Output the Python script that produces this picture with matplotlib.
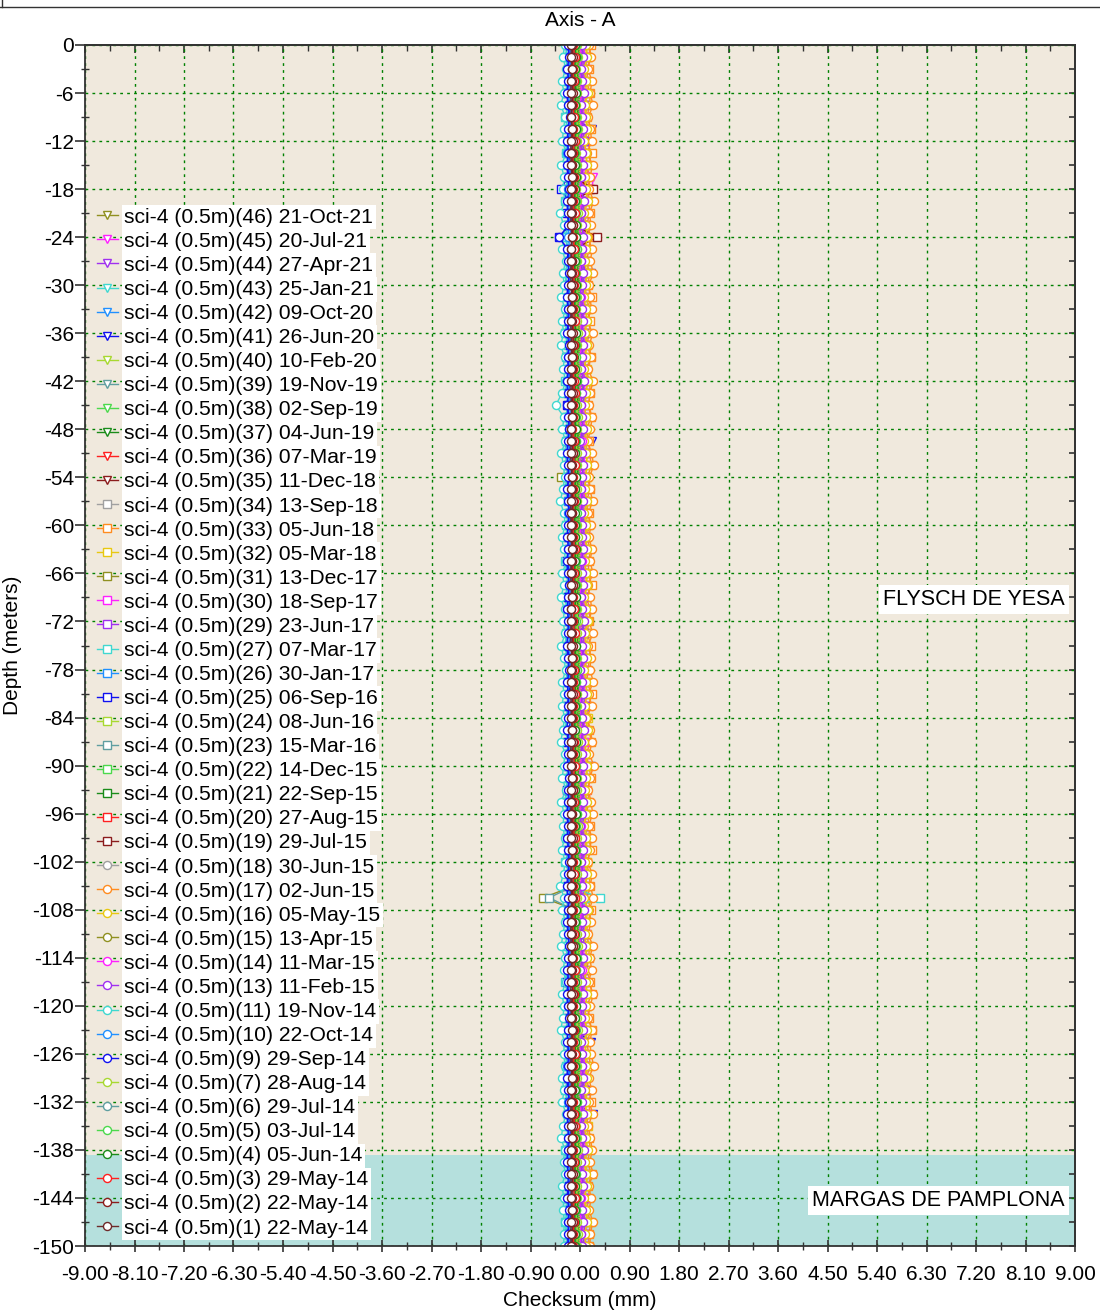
import numpy as np
import matplotlib
matplotlib.use("Agg")
import matplotlib.pyplot as plt
import matplotlib.transforms as mtransforms
from matplotlib.ticker import MultipleLocator, FuncFormatter

# series ids / dates, top of legend first
series_ids = [46, 45, 44, 43, 42, 41, 40, 39, 38, 37, 36, 35, 34, 33, 32, 31, 30, 29,
              27, 26, 25, 24, 23, 22, 21, 20, 19, 18, 17, 16, 15, 14, 13, 11, 10, 9,
              7, 6, 5, 4, 3, 2, 1]
series_dates = ["21-Oct-21", "20-Jul-21", "27-Apr-21", "25-Jan-21", "09-Oct-20", "26-Jun-20",
                "10-Feb-20", "19-Nov-19", "02-Sep-19", "04-Jun-19", "07-Mar-19", "11-Dec-18",
                "13-Sep-18", "05-Jun-18", "05-Mar-18", "13-Dec-17", "18-Sep-17", "23-Jun-17",
                "07-Mar-17", "30-Jan-17", "06-Sep-16", "08-Jun-16", "15-Mar-16", "14-Dec-15",
                "22-Sep-15", "27-Aug-15", "29-Jul-15", "30-Jun-15", "02-Jun-15", "05-May-15",
                "13-Apr-15", "11-Mar-15", "11-Feb-15", "19-Nov-14", "22-Oct-14", "29-Sep-14",
                "28-Aug-14", "29-Jul-14", "03-Jul-14", "05-Jun-14", "29-May-14", "22-May-14",
                "22-May-14"]

# layers (name, top, bottom, colour)
layer_names = ["FLYSCH DE YESA", "MARGAS DE PAMPLONA"]
layer_top = [0, -138.6]
layer_bot = [-138.6, -150]
layer_colors = ["#F0E9DD", "#B5E0DD"]

# checksum values (hundredths of mm), 0 m down to -150 m
v1 = [-16,-16,-15,-16,-17,-16,-16,-15,-16,-17,-16,-15,-16,-16,-17,-16,-15,-16,-16,-17,
      -16,-15,-16,-17,-16,-16,-15,-16,-17,-16,-16,-15,-16,-16,-17,-16,-15,-16,-16,-17,
      -16,-16,-15,-16,-17,-16,-15,-16,-16,-17,-16,-15,-16,-16,-17,-16,-16,-15,-16,-17,
      -16,-15,-16,-16,-17,-16,-16,-15,-16,-17,-16,-15,-16,-16,-17,-16,-15,-16,-16,-17,
      -16,-16,-15,-16,-17,-16,-15,-16,-16,-17,-16,-15,-16,-16,-17,-16,-16,-15,-16,-17,-16]
v2 = [-14,-13,-15,-14,-13,-14,-16,-14,-13,-15,-14,-13,-14,-15,-14,-13,-14,-16,-15,-14,
      -13,-14,-15,-14,-13,-12,-14,-15,-14,-13,-14,-15,-16,-14,-13,-14,-15,-14,-13,-14,
      -15,-14,-13,-15,-14,-13,-14,-16,-15,-14,-13,-14,-15,-14,-13,-14,-15,-14,-12,-14,
      -15,-14,-13,-14,-15,-14,-13,-14,-15,-16,-14,-13,-14,-15,-14,-13,-14,-15,-14,-13,
      -15,-14,-13,-14,-15,-14,-13,-14,-15,-14,-13,-14,-15,-14,-13,-14,-15,-14,-13,-14,-14]
v3 = [-12,-10,-13,-11,-14,-12,-11,-13,-10,-12,-14,-11,-12,-13,-10,-13,-12,-11,-14,-11,
      -11,-13,-12,-10,-14,-11,-12,-13,-11,-10,-13,-12,-14,-11,-12,-10,-13,-12,-11,-14,
      -13,-12,-10,-14,-11,-12,-13,-11,-12,-10,-14,-12,-11,-13,-10,-12,-13,-14,-11,-12,
      -10,-12,-13,-11,-14,-12,-10,-13,-12,-11,-13,-10,-12,-14,-11,-13,-12,-10,-13,-11,
      -12,-14,-11,-12,-10,-13,-11,-14,-12,-11,-10,-13,-12,-11,-14,-12,-10,-13,-11,-12,-12]
v4 = [-9,-8,-10,-9,-7,-9,-10,-8,-9,-11,-9,-8,-9,-10,-9,-8,-7,-9,-10,-9,
      -8,-9,-10,-9,-8,-9,-11,-9,-8,-9,-10,-9,-8,-9,-9,-10,-8,-9,-7,-9,
      -10,-9,-8,-9,-10,-9,-8,-9,-11,-9,-8,-9,-10,-9,-8,-9,-9,-10,-8,-9,
      -9,-8,-10,-9,-8,-9,-10,-9,-8,-9,-9,-10,-8,-9,-10,-9,-8,-9,-9,-10,
      -8,-9,-10,-9,-8,-9,-9,-10,-8,-9,-10,-9,-8,-9,-9,-10,-8,-9,-10,-9,-9]
v5 = [-8,-6,-9,-8,-7,-10,-8,-6,-8,-9,-7,-8,-10,-8,-7,-9,-8,-6,-8,-9,
      -7,-8,-9,-10,-8,-7,-8,-9,-6,-8,-9,-8,-7,-8,-10,-8,-7,-9,-8,-6,
      -8,-9,-7,-8,-9,-8,-10,-7,-8,-9,-8,-7,-6,-8,-9,-8,-7,-9,-8,-10,
      -8,-7,-9,-8,-6,-8,-9,-8,-7,-9,-8,-10,-8,-7,-9,-8,-6,-8,-9,-8,
      -7,-9,-8,-10,-8,-7,-9,-8,-6,-8,-9,-8,-7,-9,-8,-10,-8,-7,-9,-8,-8]
v6 = [-13,-11,-14,-13,-15,-12,-13,-14,-11,-13,-15,-13,-12,-14,-13,-11,-13,-14,-16,-13,
      -12,-13,-14,-12,-13,-15,-13,-11,-13,-14,-13,-12,-15,-13,-14,-12,-13,-11,-14,-13,
      -15,-13,-12,-14,-13,-11,-13,-14,-12,-13,-15,-13,-12,-14,-13,-11,-13,-14,-16,-13,
      -12,-13,-14,-12,-13,-15,-13,-11,-13,-14,-13,-12,-15,-13,-14,-12,-13,-11,-14,-13,
      -15,-13,-12,-14,-13,-11,-13,-14,-12,-13,-15,-13,-12,-14,-13,-11,-13,-14,-12,-13,-13]
v7 = [-6,-4,-7,-6,-5,-8,-6,-4,-6,-7,-5,-6,-8,-6,-3,-6,-7,-5,-6,-8,
      -6,-5,-7,-6,-4,-6,-7,-5,-6,-8,-6,-4,-6,-7,-5,-6,-8,-6,-5,-7,
      -6,-4,-6,-7,-5,-6,-8,-6,-4,-6,-7,-5,-6,-8,-6,-5,-7,-6,-4,-6,
      -7,-5,-6,-8,-6,-4,-6,-7,-5,-6,-8,-6,-5,-7,-6,-4,-6,-7,-5,-6,
      -8,-6,-4,-6,-7,-5,-6,-8,-6,-5,-7,-6,-4,-6,-7,-5,-6,-8,-6,-4,-6]
v9 = [-22,-20,-23,-21,-24,-22,-19,-22,-23,-21,-24,-22,-20,-23,-22,-21,-38,-23,-22,-20,
      -22,-24,-21,-22,-23,-20,-22,-21,-24,-22,-23,-21,-20,-22,-24,-22,-21,-23,-22,-20,
      -22,-23,-21,-24,-22,-20,-22,-23,-21,-22,-24,-22,-20,-23,-22,-21,-22,-24,-21,-22,
      -23,-20,-22,-21,-24,-22,-23,-21,-20,-22,-24,-22,-21,-23,-22,-20,-22,-23,-21,-24,
      -22,-20,-22,-23,-21,-22,-24,-22,-20,-23,-22,-21,-22,-24,-21,-22,-23,-20,-22,-21,-22]
v10 = [-19,-17,-21,-18,-22,-19,-16,-20,-19,-23,-18,-19,-21,-17,-19,-20,-22,-18,-19,-16,
       -20,-19,-22,-18,-17,-19,-21,-19,-23,-18,-19,-17,-20,-19,-22,-18,-19,-16,-20,-21,
       -19,-18,-22,-19,-17,-20,-19,-23,-18,-19,-21,-17,-19,-20,-22,-18,-19,-16,-20,-19,
       -22,-18,-17,-19,-21,-19,-23,-18,-19,-17,-20,-19,-22,-18,-19,-16,-20,-21,-19,-18,
       -22,-19,-17,-20,-19,-23,-18,-19,-21,-17,-19,-20,-22,-18,-19,-16,-20,-19,-22,-18,-19]
v11 = [-28,-31,-26,-33,-29,-35,-27,-30,-32,-25,-34,-29,-31,-27,-36,-30,-28,-33,-26,-31,
       -29,-34,-27,-32,-30,-35,-28,-31,-26,-33,-44,-29,-32,-27,-34,-30,-28,-31,-36,-29,
       -27,-33,-30,-25,-32,-29,-35,-28,-31,-27,-34,-30,-26,-32,-29,-33,-28,-31,-35,-27,
       -30,-32,-26,-34,-29,-31,-28,-33,-27,-30,-36,-29,-32,-27,-31,-34,-28,-30,-26,-33,
       -29,-31,-35,-28,-30,-27,-33,-29,-32,-26,-31,-34,-28,-30,-27,-33,-29,-31,-28,-30,-29]
v13 = [3,5,1,4,7,2,3,6,0,4,5,2,3,7,1,4,6,3,2,5,
       3,0,4,6,2,5,3,1,7,4,2,3,5,0,4,6,3,2,5,1,
       4,3,6,2,3,5,1,4,7,2,3,6,0,4,5,2,3,7,1,4,
       6,3,2,5,3,0,4,6,2,5,3,1,7,4,2,3,5,0,4,6,
       3,2,5,1,4,3,6,2,3,5,1,4,7,2,3,6,0,4,5,2,3]
v14 = [1,2,-1,1,3,0,1,2,-1,1,4,1,0,2,1,-1,1,3,1,0,
       2,1,-1,1,2,3,0,1,-1,2,1,0,1,3,1,-1,2,1,0,1,
       2,-1,1,3,1,0,2,1,-1,1,2,3,0,1,-1,2,1,0,1,3,
       1,-1,2,1,0,1,2,-1,1,3,1,0,2,1,-1,1,2,3,0,1,
       -1,2,1,0,1,3,1,-1,2,1,0,1,2,-1,1,3,1,0,2,1,1]
v15 = [-10,-9,-11,-10,-8,-10,-12,-10,-9,-11,-10,-8,-10,-11,-10,-9,-12,-10,-9,-11,
       -10,-8,-10,-11,-10,-9,-12,-10,-9,-11,-10,-8,-10,-11,-10,-9,-12,-10,-9,-11,
       -10,-8,-10,-11,-10,-9,-12,-10,-9,-11,-10,-8,-10,-11,-10,-9,-12,-10,-9,-11,
       -10,-8,-10,-11,-10,-9,-12,-10,-9,-11,-10,-8,-10,-11,-10,-9,-12,-10,-9,-11,
       -10,-8,-10,-11,-10,-9,-12,-10,-9,-11,-10,-8,-10,-11,-10,-9,-12,-10,-9,-11,-10]
v16 = [10,12,8,11,14,9,10,13,7,11,12,9,10,14,8,11,13,10,9,12,
       10,7,11,13,9,12,10,8,14,11,9,10,12,7,11,13,10,9,12,8,
       11,10,13,9,10,12,8,11,14,9,10,13,7,11,12,9,10,14,8,11,
       13,10,9,12,10,7,11,13,9,12,10,8,14,11,9,10,12,7,11,13,
       10,9,12,8,11,10,13,9,10,12,8,11,14,9,10,13,7,11,12,9,10]
v17 = [17,20,14,22,18,24,15,19,21,13,23,18,16,25,17,20,14,22,19,24,
       16,18,21,13,23,17,20,15,24,18,16,22,19,14,21,25,17,18,23,15,
       20,16,22,18,24,14,19,21,17,23,15,20,18,24,16,21,13,19,22,17,
       25,18,15,20,23,16,21,18,14,22,19,24,17,20,15,23,18,21,16,24,
       19,14,22,18,20,25,16,21,17,23,15,19,22,18,24,16,20,17,23,19,18]
v18 = [-7,-6,-8,-7,-5,-7,-9,-7,-6,-8,-7,-5,-7,-8,-7,-6,-9,-7,-6,-8,
       -7,-5,-7,-8,-7,-6,-9,-7,-6,-8,-7,-5,-7,-8,-7,-6,-9,-7,-6,-8,
       -7,-5,-7,-8,-7,-6,-9,-7,-6,-8,-7,-5,-7,-8,-7,-6,-9,-7,-6,-8,
       -7,-5,-7,-8,-7,-6,-9,-7,-6,-8,-7,-5,-7,-8,-7,-6,-9,-7,-6,-8,
       -7,-5,-7,-8,-7,-6,-9,-7,-6,-8,-7,-5,-7,-8,-7,-6,-9,-7,-6,-8,-7]
v19 = [-11,-10,-12,-11,-9,-11,-13,-11,-10,-12,-11,-9,24,-12,-11,-10,31,-11,-10,-12,
       -11,-9,-11,-12,-11,-10,-13,-11,-10,-12,-11,-9,-11,-12,-11,-10,-13,-11,-10,-12,
       -11,-9,-11,-12,-11,-10,-13,-11,-10,-12,-11,-9,-11,-12,-11,-10,-13,-11,-10,-12,
       -11,-9,-11,-12,-11,-10,-13,-11,-10,-12,-11,-9,-11,-12,-11,-10,-13,-11,-10,-12,
       -11,-9,-11,-12,-11,-10,-13,-11,-10,-12,-11,-9,-11,-12,-11,-10,-13,-11,-10,-12,-11]
v20 = [-8,-7,-9,-8,-6,-8,-10,-8,-7,-9,-8,-6,18,-9,-8,-7,-10,-8,-7,-9,
       -8,-6,-8,-9,-8,-7,-10,-8,-7,-9,-8,-6,-8,-9,-8,-7,-10,-8,-7,-9,
       -8,-6,-8,-9,-8,-7,-10,-8,-7,-9,-8,-6,-8,-9,-8,-7,-10,-8,-7,-9,
       -8,-6,-8,-9,-8,-7,-10,-8,-7,-9,-8,-6,-8,-9,-8,-7,-10,-8,-7,-9,
       -8,-6,-8,-9,-8,-7,-10,-8,-7,-9,-8,-6,-8,-9,-8,-7,-10,-8,-7,-9,-8]
v21 = [-5,-3,-6,-4,-7,-5,-4,-6,-3,-5,-7,-4,-5,-6,-3,-6,-5,-4,-7,-4,
       -4,-6,-5,-3,-7,-4,-5,-6,-4,-3,-6,-5,-7,-4,-5,-3,-6,-5,-4,-7,
       -6,-5,-3,-7,-4,-5,-6,-4,-5,-3,-7,-5,-4,-6,-3,-5,-6,-7,-4,-5,
       -3,-5,-6,-4,-7,-5,-3,-6,-5,-4,-6,-3,-5,-7,-4,-6,-5,-3,-6,-4,
       -5,-7,-4,-5,-3,-6,-4,-7,-5,-4,-3,-6,-5,-4,-7,-5,-3,-6,-4,-5,-5]
v22 = [-4,-3,-1,-5,-2,-3,-4,-2,-3,-1,-5,-3,-2,-4,-1,-3,-4,-5,-2,-3,
       -1,-3,-4,-2,-5,-3,-1,-4,-3,-2,-4,-1,-3,-5,-2,-4,-3,-1,-4,-2,
       -3,-5,-2,-3,-1,-4,-2,-5,-3,-2,-1,-4,-3,-2,-5,-3,-1,-4,-2,-3,
       -3,-1,-4,-2,-5,-3,-2,-4,-1,-3,-5,-2,-3,-4,-1,-4,-3,-2,-5,-2,
       -2,-4,-3,-1,-5,-2,-3,-4,-2,-1,-4,-3,-5,-2,-3,-1,-4,-3,-2,-5,-3]
v23 = [-11,-13,-12,-10,-14,-11,-12,-13,-11,-10,-13,-12,-14,-11,-12,-10,-13,-12,-11,-14,
       -13,-12,-10,-14,-11,-12,-13,-11,-12,-10,-14,-12,-11,-13,-10,-12,-13,-14,-11,-12,
       -10,-12,-13,-11,-14,-12,-10,-13,-12,-11,-13,-10,-12,-14,-11,-13,-12,-10,-13,-11,
       -12,-14,-11,-12,-10,-13,-11,-14,-12,-11,-10,-56,-12,-11,-14,-12,-10,-13,-11,-12,
       -12,-10,-13,-11,-14,-12,-11,-13,-10,-12,-14,-11,-12,-13,-10,-13,-12,-11,-14,-11,-12]
v24 = [1,-1,-2,0,-3,-1,1,-2,-1,0,-2,1,-1,-3,0,-2,-1,1,-2,0,
       -1,-3,0,-1,1,-2,0,-3,-1,0,1,-2,-1,0,-3,-1,1,-2,0,-1,
       -1,1,-2,0,-3,-1,0,-2,1,-1,-3,0,-1,-2,1,-2,-1,0,-3,0,
       0,-2,-1,1,-3,0,-1,-2,0,1,-2,-1,-3,0,-1,1,-2,-1,0,-3,
       -2,-1,1,-3,0,-1,-2,0,-1,1,-3,-1,0,-2,1,-1,-2,-3,0,-1,-1]
v25 = [-20,-17,-22,-19,-24,-18,-21,-16,-23,-20,-18,-22,-35,-21,-24,-19,-38,-23,-18,-16,
       -22,-19,-16,-23,-20,-18,-24,-19,-17,-21,-23,-20,-18,-22,-16,-21,-19,-24,-17,-20,
       -17,-21,-20,-24,-18,-19,-22,-17,-23,-16,-20,-22,-19,-21,-18,-24,-17,-20,-23,-19,
       -21,-16,-23,-18,-20,-22,-17,-24,-19,-18,-21,-17,-23,-20,-19,-16,-22,-18,-24,-20,
       -19,-23,-18,-20,-21,-16,-24,-18,-20,-22,-17,-19,-21,-23,-16,-20,-22,-19,-17,-24,-20]
v26 = [-14,-18,-17,-21,-15,-16,-19,-14,-20,-13,-17,-19,-16,-18,-15,-21,-14,-17,-20,-16,
       -18,-13,-20,-15,-17,-19,-14,-21,-16,-15,-18,-14,-20,-17,-16,-13,-19,-15,-21,-17,
       -16,-20,-15,-17,-18,-13,-21,-15,-17,-19,-14,-16,-18,-20,-13,-17,-19,-16,-14,-21,
       -17,-14,-19,-16,-21,-15,-18,-13,-20,-17,-15,-19,-14,-18,-21,-16,-17,-20,-15,-13,
       -19,-16,-13,-20,-17,-15,-21,-16,-14,-18,-20,-17,-15,-19,-13,-18,-16,-21,-14,-17,-17]
v27 = [-23,-27,-22,-24,-25,-20,-28,-22,-24,-26,-21,-23,-25,-27,-20,-24,-26,-23,-21,-28,
       -24,-21,-26,-23,-28,-22,-25,-20,-27,-24,-22,-26,-21,-25,-28,-23,-24,-27,-22,-20,
       -26,-23,-20,-27,-24,-22,-28,-23,-21,-25,-27,-24,-22,-26,-20,-25,-23,-28,-21,-24,
       -21,-25,-24,-28,-22,-23,-26,-21,-27,-20,-24,37,-23,-25,-22,-28,-21,-24,-27,-23,
       -25,-20,-27,-22,-24,-26,-21,-28,-23,-22,-25,-21,-27,-24,-23,-20,-26,-22,-28,-24,-24]
v29 = [3,6,9,2,5,7,1,6,8,4,2,5,7,3,9,4,6,1,8,5,
       8,4,5,1,7,6,3,8,2,9,5,3,6,4,7,1,8,5,2,6,
       4,9,2,7,5,3,8,1,6,7,4,8,2,5,6,9,3,7,1,5,
       6,2,7,5,4,9,1,7,5,3,8,6,4,2,9,5,3,6,8,1,
       5,8,3,6,1,7,4,9,2,5,7,3,8,4,1,6,5,2,7,9,5]
v30 = [5,10,3,8,6,4,9,2,7,8,5,9,3,6,7,10,4,8,2,6,
       7,3,8,6,5,10,2,8,6,4,9,7,5,3,10,6,4,7,9,2,
       6,9,4,7,2,8,5,10,3,6,8,4,9,5,2,7,6,3,8,10,
       4,7,10,3,6,8,2,7,9,5,3,6,8,4,10,5,7,2,9,6,
       9,5,6,2,8,7,4,9,3,10,6,4,7,5,8,2,9,6,3,7,6]
v31 = [-9,-7,-10,-8,-11,-9,-8,-10,-7,-9,-11,-8,-9,-10,-7,-10,-9,-8,-11,-8,
       -8,-10,-9,-7,-11,-8,-9,-10,-8,-7,-10,-9,-11,-8,-9,-7,-34,-9,-8,-11,
       -10,-9,-7,-11,-8,-9,-10,-8,-9,-7,-11,-9,-8,-10,-7,-9,-10,-11,-8,-9,
       -7,-9,-10,-8,-11,-9,-7,-10,-9,-8,-10,-67,-9,-11,-8,-10,-9,-7,-10,-8,
       -9,-11,-8,-9,-7,-10,-8,-11,-9,-8,-7,-10,-9,-8,-11,-9,-7,-10,-8,-9,-9]
v32 = [11,14,9,12,7,13,10,15,8,11,13,9,14,10,7,12,11,8,13,15,
       9,12,15,8,11,13,7,12,14,10,8,11,13,9,15,10,12,7,14,11,
       14,10,11,7,13,12,9,14,8,15,11,9,12,10,13,7,14,11,8,12,
       10,15,8,13,11,9,14,7,12,13,10,14,8,11,12,15,9,13,7,11,
       12,8,13,11,10,15,7,13,11,9,14,12,10,8,15,11,9,12,14,7,11]
v33 = [20,15,16,11,19,17,13,20,12,21,16,13,17,15,19,11,20,16,12,17,
       15,21,12,19,16,13,20,11,17,19,15,20,12,16,17,21,13,19,11,16,
       17,12,19,16,15,21,11,19,16,13,20,17,15,12,21,16,13,17,20,11,
       16,20,13,17,11,19,15,21,12,16,19,13,20,15,11,17,16,12,19,21,
       13,17,21,12,16,19,11,17,20,15,12,16,19,13,21,15,17,11,20,16,16]
v34 = [-6,-8,-5,-6,-4,-7,-5,-8,-6,-5,-4,-7,-6,-5,-8,-6,-4,-7,-5,-6,
       -6,-4,-7,-5,-8,-6,-5,-7,-4,-6,-8,-5,-6,-7,-4,-7,-6,-5,-8,-5,
       -5,-7,-6,-4,-8,-5,-6,-7,-5,-4,-7,-6,-8,-5,-6,-4,-7,-6,-5,-8,
       -7,-6,-4,-8,-5,-6,-7,-5,-6,-4,-8,-6,-5,-7,-4,-6,-7,-8,-5,-6,
       -4,-6,-7,-5,-8,-6,-4,-7,-6,-5,-7,-4,-6,-8,-5,-7,-6,-4,-7,-5,-6]
v35 = [-9,-11,-10,-8,-12,-9,-10,-11,-9,-8,-11,-10,-12,-9,-10,-8,-11,-10,-9,-12,
       -11,-10,-8,-12,-9,-10,-11,-9,-10,-8,-12,-10,-9,-11,-8,-10,-11,-12,-9,-10,
       -8,-10,-11,-9,-12,-10,-8,-11,-10,-9,-11,-8,-10,-12,-9,-11,-10,-8,-11,-9,
       -10,-12,-9,-10,-8,-11,-9,-12,-10,-9,-8,-11,-10,-9,-12,-10,-8,-11,-9,-10,
       -10,-8,-11,-9,-12,-10,-9,-11,-8,-10,-12,-9,-10,-11,-8,-11,-10,-9,-12,-9,-10]
v36 = [-6,-5,-3,-7,-4,-5,-6,-4,-5,-3,-7,-5,-4,-6,-3,-5,-6,-7,-4,-5,
       -3,-5,-6,-4,-7,-5,-3,-6,-5,-4,-6,-3,-5,-7,-4,-6,-5,-3,-6,-4,
       -5,-7,-4,-5,-3,-6,-4,-7,-5,-4,-3,-6,-5,-4,-7,-5,-3,-6,-4,-5,
       -5,-3,-6,-4,-7,-5,-4,-6,-3,-5,-7,-4,-5,-6,-3,-6,-5,-4,-7,-4,
       -4,-6,-5,-3,-7,-4,-5,-6,-4,-3,-6,-5,-7,-4,-5,-3,-6,-5,-4,-7,-5]
v37 = [-1,-3,-4,-2,-5,-3,-1,-4,-3,-2,-4,-1,-3,-5,-2,-4,-3,-1,-4,-2,
       -3,-5,-2,-3,-1,-4,-2,-5,-3,-2,-1,-4,-3,-2,-5,-3,-1,-4,-2,-3,
       -3,-1,-4,-2,-5,-3,-2,-4,-1,-3,-5,-2,-3,-4,-1,-4,-3,-2,-5,-2,
       -2,-4,-3,-1,-5,-2,-3,-4,-2,-1,-4,-3,-5,-2,-3,-1,-4,-3,-2,-5,
       -4,-3,-1,-5,-2,-3,-4,-2,-3,-1,-5,-3,-2,-4,-1,-3,-4,-5,-2,-3,-3]
v38 = [-1,-3,0,-1,1,-2,0,-3,-1,0,1,-2,-1,0,-3,-1,1,-2,0,-1,
       -1,1,-2,0,-3,-1,0,-2,1,-1,-3,0,-1,-2,1,-2,-1,0,-3,0,
       0,-2,-1,1,-3,0,-1,-2,0,1,-2,-1,-3,0,-1,1,-2,-1,0,-3,
       -2,-1,1,-3,0,-1,-2,0,-1,1,-3,-1,0,-2,1,-1,-2,-3,0,-1,
       1,-1,-2,0,-3,-1,1,-2,-1,0,-2,1,-1,-3,0,-2,-1,1,-2,0,-1]
v39 = [-9,-7,-10,-8,-11,-9,-8,-10,-7,-9,-11,-8,-9,-10,-7,-10,-9,-8,-11,-8,
       -8,-10,-9,-7,-11,-8,-9,-10,-8,-7,-10,-9,-11,-8,-9,-7,-10,-9,-8,-11,
       -10,-9,-7,-11,-8,-9,-10,-8,-9,-7,-11,-9,-8,-10,-7,-9,-10,-11,-8,-9,
       -7,-9,-10,-8,-11,-9,-7,-10,-9,-8,-10,-7,-9,-11,-8,-10,-9,-7,-10,-8,
       -9,-11,-8,-9,-7,-10,-8,-11,-9,-8,-7,-10,-9,-8,-11,-9,-7,-10,-8,-9,-9]
v40 = [2,0,1,3,-1,2,1,0,2,3,0,1,-1,2,1,3,0,1,2,-1,
       0,1,3,-1,2,1,0,2,1,3,-1,1,2,0,3,1,0,-1,2,1,
       3,1,0,2,-1,1,3,0,1,2,0,3,1,-1,2,0,1,3,0,2,
       1,-1,2,1,3,0,2,-1,1,2,3,0,1,2,-1,1,3,0,2,1,
       1,3,0,2,-1,1,2,0,3,1,-1,2,1,0,3,0,1,2,-1,2,1]
v41 = [-12,-16,-15,-19,-13,-14,-17,22,-18,-11,-15,-17,-14,-16,-13,-19,-12,-15,-18,20,
       -16,-11,-18,-13,-15,-17,-12,-19,-14,-13,-16,-12,-18,22,-14,-11,-17,-13,-19,-15,
       -14,-18,-13,-15,-16,-11,-19,-13,-15,-17,-12,-14,-16,-18,-11,-15,-17,-14,-12,-19,
       20,-12,-17,-14,-19,-13,-16,-11,-18,-15,-13,-17,-12,-16,-19,-14,-15,-18,-13,-11,
       -17,-14,-11,20,-15,-13,-19,-14,-12,24,-18,-15,-13,-17,-11,-16,-14,-19,-12,-15,-15]
v42 = [-15,-10,-17,-12,-14,-16,-11,-18,-13,-12,-15,-11,-17,-14,-13,-10,-16,-12,-18,-14,
       -13,-17,-12,-14,-15,-10,-18,-12,-14,-16,-11,-13,-15,-17,-10,-14,-16,-13,-11,-18,
       -14,-11,-16,-13,-18,-12,-15,-10,-17,-14,-12,-16,-11,-15,-18,-13,-14,-17,-12,-10,
       -16,-13,-10,-17,-14,-12,-18,-13,-11,-15,-17,-14,-12,-16,-10,-15,-13,-18,-11,-14,
       -11,-15,-14,-18,-12,-13,-16,-11,-17,-10,-14,-16,-13,-15,-12,-18,-11,-14,-17,-13,-14]
v43 = [-22,-26,-21,-23,-24,-19,-27,-21,-23,-25,-20,-22,-24,-26,-19,-23,-25,-22,-20,-27,
       -23,-20,-25,-22,-27,-21,-24,-19,-26,-23,-21,-25,-20,-24,-27,-22,-23,-26,-21,-19,
       -25,-22,-19,-26,-23,-21,-27,-22,-20,-24,-26,-23,-21,-25,-19,-24,-22,-27,-20,-23,
       -20,-24,-23,-27,-21,-22,-25,-20,-26,-19,-23,-25,-22,-24,-21,-27,-20,-23,-26,-22,
       -24,-19,-26,-21,-23,-25,-20,-27,-22,-21,-24,-20,-26,-23,-22,-19,-25,-21,-27,-23,-23]
v44 = [5,8,3,6,1,7,4,9,2,5,7,3,8,4,1,6,5,2,7,9,
       3,6,9,2,5,7,1,6,8,4,2,5,7,3,9,4,6,1,8,5,
       8,4,5,1,7,6,3,8,2,9,5,3,6,4,7,1,8,5,2,6,
       4,9,2,7,5,3,8,1,6,7,4,8,2,5,6,9,3,7,1,5,
       6,2,7,5,4,9,1,7,5,3,8,6,4,2,9,5,3,6,8,1,5]
v45 = [6,9,12,5,8,10,4,9,11,7,5,24,22,6,12,7,9,4,11,8,
       11,7,8,4,10,9,6,11,5,12,8,6,9,7,10,4,11,8,5,9,
       7,12,5,10,8,6,11,4,9,10,7,11,5,8,9,12,6,10,4,8,
       9,5,10,8,7,12,4,10,8,6,11,9,7,5,12,8,6,9,11,4,
       8,11,6,9,4,10,7,12,5,8,10,6,11,7,4,9,8,5,10,12,8]
v46 = [-8,-7,-5,-9,-6,-7,-8,-6,-7,-5,-9,-7,-6,-8,-5,-7,-8,-9,-6,-7,
       -5,-7,-8,-6,-9,-7,-5,-8,-7,-6,-8,-5,-7,-9,-6,-8,-7,-5,-8,-6,
       -7,-9,-6,-7,-5,-8,-6,-9,-7,-6,-5,-8,-7,-6,-9,-7,-5,-8,-6,-7,
       -7,-5,-8,-6,-9,-7,-6,-8,-5,-7,-9,-6,-7,-8,-5,-8,-7,-6,-9,-6,
       -6,-8,-7,-5,-9,-6,-7,-8,-6,-5,-8,-7,-9,-6,-7,-5,-8,-7,-6,-9,-7]

values = {1: v1, 2: v2, 3: v3, 4: v4, 5: v5, 6: v6, 7: v7, 9: v9, 10: v10, 11: v11,
          13: v13, 14: v14, 15: v15, 16: v16, 17: v17, 18: v18, 19: v19, 20: v20,
          21: v21, 22: v22, 23: v23, 24: v24, 25: v25, 26: v26, 27: v27, 29: v29,
          30: v30, 31: v31, 32: v32, 33: v33, 34: v34, 35: v35, 36: v36, 37: v37,
          38: v38, 39: v39, 40: v40, 41: v41, 42: v42, 43: v43, 44: v44, 45: v45, 46: v46}

# colour cycle used by the logger software
cycle = ["#8B1C1C", "#FF2020", "#1A8C1A", "#4CD94C", "#5F9EA0", "#A8D830", "#1010F0",
         "#2090FF", "#40D8D0", "#A030F0", "#FF20FF", "#909020", "#E8C810", "#FF8C20", "#A0A0A0"]


def style_for(sid):
    if sid >= 35:
        group, mk = [35, 36, 37, 38, 39, 40, 41, 42, 43, 44, 45, 46], "v"
    elif sid >= 19:
        group, mk = [19, 20, 21, 22, 23, 24, 25, 26, 27, 29, 30, 31, 32, 33, 34], "s"
    else:
        group, mk = [2, 3, 4, 5, 6, 7, 9, 10, 11, 13, 14, 15, 16, 17, 18], "o"
    if sid == 1:
        return "o", "#6E2A2A"
    return mk, cycle[group.index(sid)]


plt.rcParams['font.family'] = ['Liberation Sans', 'DejaVu Sans']
plt.rcParams['axes.unicode_minus'] = False
FS = 15
FS_LEG = 15.2
SPINE = "#333333"

fig = plt.figure(figsize=(11, 13.14), dpi=100)
ax = fig.add_axes([85 / 1100, 1 - 1246 / 1314, 990 / 1100, 1201 / 1314])

for top, bot, col in zip(layer_top, layer_bot, layer_colors):
    ax.axhspan(bot, top, color=col, lw=0, zorder=0)

for sid, date in zip(series_ids, series_dates):
    mk, col = style_for(sid)
    vals = np.array(values[sid]) / 100.0
    depth = np.linspace(0, -150, len(vals))
    ax.plot(vals, depth, marker=mk, color=col, mfc="white", mec=col, ms=5.8, mew=1.0,
            lw=1.0, label=f"sci-4 (0.5m)({sid}) {date}")

ax.set_xlim(-9, 9)
ax.set_ylim(-150, 0)
ax.xaxis.set_major_locator(MultipleLocator(0.9))
ax.xaxis.set_minor_locator(MultipleLocator(0.45))
ax.yaxis.set_major_locator(MultipleLocator(6))
ax.yaxis.set_minor_locator(MultipleLocator(3))
ax.xaxis.set_major_formatter(FuncFormatter(lambda x, p: f"{round(x, 2) + 0.0:.2f}"))
ax.yaxis.set_major_formatter(FuncFormatter(lambda y, p: f"{int(round(y))}"))

ax.set_axisbelow(True)
ax.grid(True, which="major", color="#008000", linestyle=(0, (2, 3)), linewidth=1.0)

ax.tick_params(axis="x", which="major", direction="inout", length=9, width=1.2, color=SPINE,
               labelsize=FS, pad=9)
ax.tick_params(axis="x", which="minor", direction="inout", length=6, width=1.0, color=SPINE)
ax.tick_params(axis="y", which="major", direction="out", length=7, width=1.2, color=SPINE,
               labelsize=FS, pad=1)
ax.tick_params(axis="y", which="minor", direction="inout", length=6, width=1.0, color=SPINE)
for s in ax.spines.values():
    s.set_color(SPINE)
    s.set_linewidth(1.3)

top_ax = ax.secondary_xaxis("top")
top_ax.xaxis.set_major_locator(MultipleLocator(0.9))
top_ax.xaxis.set_minor_locator(MultipleLocator(0.45))
top_ax.tick_params(which="major", direction="in", length=6, width=1.2, color=SPINE, labeltop=False)
top_ax.tick_params(which="minor", direction="in", length=4, width=1.0, color=SPINE)
right_ax = ax.secondary_yaxis("right")
right_ax.yaxis.set_major_locator(MultipleLocator(3))
right_ax.tick_params(which="major", direction="in", length=4, width=1.2, color=SPINE, labelright=False)
for sec in (top_ax, right_ax):
    for s in sec.spines.values():
        s.set_color(SPINE)
        s.set_linewidth(1.3)

# layer names
trans = mtransforms.blended_transform_factory(ax.transAxes, ax.transData)
for name, top, bot in zip(layer_names, layer_top, layer_bot):
    ax.text(0.99, (top + bot) / 2, name, transform=trans, ha="right", va="center",
            fontsize=15.5, zorder=6, bbox=dict(facecolor="white", edgecolor="none", pad=3))

leg = ax.legend(loc="upper left", bbox_to_anchor=(0.012, 0.8645), frameon=False, fontsize=FS_LEG,
                handlelength=1.0, handletextpad=0.3, labelspacing=0.24, borderpad=0,
                borderaxespad=0)
for t in leg.get_texts():
    t.set_bbox(dict(facecolor="white", edgecolor="none", pad=2))

fig.text(580 / 1100, 1 - 20 / 1314, "Axis - A", ha="center", va="center", fontsize=FS)
fig.text(580 / 1100, 1 - 1300 / 1314, "Checksum (mm)", ha="center", va="center", fontsize=FS)
fig.text(12 / 1100, 1 - 645 / 1314, "Depth (meters)", ha="center", va="center",
         rotation=90, fontsize=FS)

# frame line across the top of the page
fig.add_artist(plt.Line2D([0, 1], [1 - 7 / 1314] * 2, color=SPINE, lw=1.0, transform=fig.transFigure))
fig.add_artist(plt.Line2D([1.5 / 1100] * 2, [1 - 7 / 1314, 1], color=SPINE, lw=1.0,
                          transform=fig.transFigure))

fig.savefig("out.png", dpi=100)
